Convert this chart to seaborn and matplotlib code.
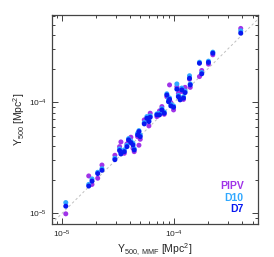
import numpy as np
import pandas as pd
import seaborn as sns
import matplotlib.pyplot as plt
from matplotlib.ticker import LogLocator, NullFormatter

# Y500 from the MMF method (x axis)
y_mmf = [1.08e-5, 1.73e-5, 1.85e-5, 2.08e-5, 2.27e-5, 2.96e-5, 3.26e-5, 3.35e-5,
         3.59e-5, 3.79e-5, 3.92e-5, 4.11e-5, 4.29e-5, 4.40e-5, 4.72e-5, 4.85e-5,
         5.71e-5, 5.95e-5, 6.11e-5, 7.01e-5, 7.40e-5, 7.77e-5, 8.15e-5, 8.90e-5,
         9.09e-5, 9.34e-5, 9.87e-5, 1.09e-4, 1.13e-4, 1.17e-4, 1.21e-4, 1.25e-4,
         1.39e-4, 1.37e-4, 1.68e-4, 1.76e-4, 2.02e-4, 2.21e-4, 3.92e-4, 8.60e-5,
         1.056e-4, 4.98e-5, 5.41e-5]

# Y500 from the other methods
y_d7 = [1.16e-5, 1.76e-5, 1.95e-5, 2.28e-5, 2.44e-5, 3.04e-5, 3.67e-5, 3.42e-5,
        3.59e-5, 3.98e-5, 4.58e-5, 4.33e-5, 4.12e-5, 3.72e-5, 5.08e-5, 5.44e-5,
        7.17e-5, 6.69e-5, 7.32e-5, 7.69e-5, 7.69e-5, 8.52e-5, 7.96e-5, 1.01e-4,
        1.06e-4, 9.26e-5, 9.01e-5, 1.12e-4, 1.05e-4, 1.29e-4, 1.09e-4, 1.22e-4,
        1.43e-4, 1.64e-4, 2.24e-4, 1.80e-4, 2.28e-4, 2.76e-4, 4.18e-4, 1.16e-4,
        1.31e-4, 4.90e-5, 6.38e-5]
y_d10 = [1.25e-5, 1.82e-5, 2.04e-5, 2.34e-5, 2.52e-5, 3.13e-5, 3.80e-5, 3.52e-5,
         3.72e-5, 4.10e-5, 4.70e-5, 4.48e-5, 4.27e-5, 3.82e-5, 5.25e-5, 5.55e-5,
         7.42e-5, 6.83e-5, 7.53e-5, 7.85e-5, 7.96e-5, 8.76e-5, 8.18e-5, 1.06e-4,
         1.09e-4, 9.59e-5, 9.26e-5, 1.15e-4, 1.08e-4, 1.34e-4, 1.12e-4, 1.26e-4,
         1.46e-4, 1.73e-4, 2.29e-4, 1.85e-4, 2.34e-4, 2.82e-4, 4.39e-4, 1.19e-4,
         1.46e-4, 5.08e-5, 6.56e-5]
y_pipv = [0.99e-5, 2.17e-5, 1.82e-5, 2.07e-5, 2.72e-5, 3.33e-5, 3.98e-5, 4.39e-5,
          3.47e-5, 4.21e-5, 4.42e-5, 4.84e-5, 3.85e-5, 3.59e-5, 4.90e-5, 4.10e-5,
          6.83e-5, 6.12e-5, 7.96e-5, 7.42e-5, 8.35e-5, 9.13e-5, 7.79e-5, 1.09e-4,
          1.43e-4, 9.92e-5, 8.52e-5, 1.20e-4, 1.29e-4, 1.25e-4, 1.06e-4, 1.36e-4,
          1.36e-4, 1.61e-4, 1.70e-4, 1.93e-4, 2.20e-4, 2.67e-4, 4.61e-4, 1.12e-4,
          1.38e-4, 4.64e-5, 6.93e-5]

methods = ['PIPV', 'D10', 'D7']
colors = {'PIPV': '#a033e8', 'D10': '#30a8ff', 'D7': '#0818f0'}

df = pd.DataFrame({
    'mmf': y_mmf * 3,
    'y500': y_pipv + y_d10 + y_d7,
    'method': ['PIPV'] * len(y_mmf) + ['D10'] * len(y_mmf) + ['D7'] * len(y_mmf),
})

sns.set_style('ticks')
plt.rcParams['font.family'] = ['Liberation Sans', 'DejaVu Sans']
plt.rcParams['mathtext.fontset'] = 'custom'
plt.rcParams['mathtext.rm'] = 'Liberation Sans'
plt.rcParams['mathtext.it'] = 'Liberation Sans'

fig = plt.figure(figsize=(2.74, 2.57), dpi=100)
ax = fig.add_axes([0.19, 0.128, 0.752, 0.814])

xmin, xmax = 8.15e-6, 5.6e-4
ymin, ymax = 8.0e-6, 6.1e-4
# one-to-one line
ax.plot([1e-6, 1e-3], [1e-6, 1e-3], color='#c0c0c0', lw=0.7, ls=(0, (2.5, 2.5)), zorder=1)

sns.scatterplot(data=df, x='mmf', y='y500', hue='method', hue_order=methods,
                palette=colors, s=13, linewidth=0, legend=False, ax=ax, zorder=3)

ax.set_xscale('log')
ax.set_yscale('log')
ax.set_xlim(xmin, xmax)
ax.set_ylim(ymin, ymax)

for axis in (ax.xaxis, ax.yaxis):
    axis.set_major_locator(LogLocator(base=10))
    axis.set_minor_locator(LogLocator(base=10, subs=np.arange(2, 10)))
    axis.set_minor_formatter(NullFormatter())
ax.tick_params(which='both', direction='in', top=True, right=True, labelsize=6,
               color='#222222', width=0.6)
ax.tick_params(which='major', length=4)
ax.tick_params(which='minor', length=2)
for sp in ax.spines.values():
    sp.set_linewidth(0.9)
    sp.set_color('#444444')

ax.set_xlabel(r'Y$_{500,\ \mathrm{MMF}}$ [Mpc$^2$]', fontsize=7.5, labelpad=1)
ax.set_ylabel(r'Y$_{500}$ [Mpc$^2$]', fontsize=7.5, labelpad=2)

for i, m in enumerate(methods):
    ax.text(0.93, 0.18 - i * 0.053, m, color=colors[m], fontsize=7.5, fontweight='bold',
            ha='right', va='center', transform=ax.transAxes)

fig.savefig('out.png', dpi=100)
